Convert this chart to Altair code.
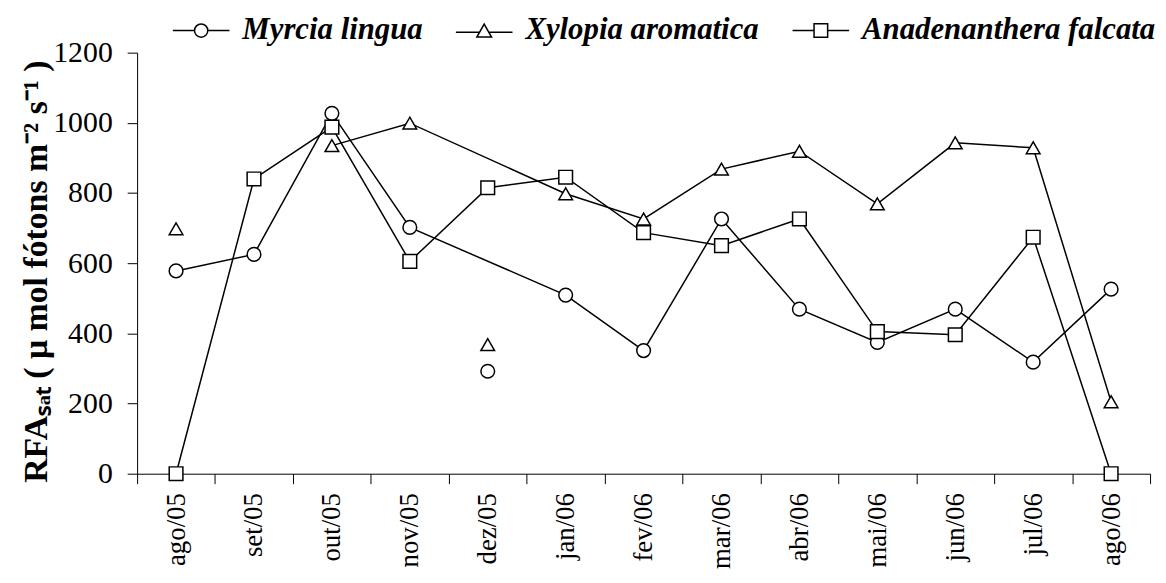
import altair as alt
import pandas as pd

months = ["ago/05", "set/05", "out/05", "nov/05", "dez/05", "jan/06", "fev/06",
          "mar/06", "abr/06", "mai/06", "jun/06", "jul/06", "ago/06"]
species = ["Myrcia lingua", "Xylopia aromatica", "Anadenanthera falcata"]

myrcia = [578, 625, 1027, 702, 292, 509, 351, 726, 469, 374, 469, 318, 526]
xylopia = [698, None, 935, 999, 368, 798, 726, 868, 919, 769, 943, 929, 205]
anadenanthera = [0, 840, 988, 605, 815, 845, 687, 650, 726, 405, 396, 674, 0]

# months whose points are shown but not joined by the series line
unjoined_myrcia = ["dez/05"]
unjoined_xylopia = ["ago/05", "dez/05"]
unjoined_anadenanthera = []

y_ticks = [0, 200, 400, 600, 800, 1000, 1200]

rows = []
for sp, vals, unj in zip(species, [myrcia, xylopia, anadenanthera],
                         [unjoined_myrcia, unjoined_xylopia, unjoined_anadenanthera]):
    for i, (m, v) in enumerate(zip(months, vals)):
        if v is None:
            continue
        rows.append({"mes": m, "ordem": i, "especie": sp, "rfa": v, "ligado": m not in unj})
df = pd.DataFrame(rows)

FONT = "Liberation Serif"

x_enc = alt.X(
    "mes:N",
    scale=alt.Scale(type="band", domain=months, paddingInner=0, paddingOuter=0),
    bandPosition=0.5,
    axis=alt.Axis(
        title=None, tickBand="extent", labelAngle=270, labelAlign="right",
        labelBaseline="middle", labelFont=FONT, labelFontSize=27, labelColor="black",
        labelPadding=9, tickSize=10, tickColor="black", domainColor="black",
        labelOverlap=False,
    ),
)
y_enc = alt.Y(
    "rfa:Q",
    scale=alt.Scale(domain=[0, 1200], nice=False, zero=True),
    axis=alt.Axis(
        values=y_ticks, format="d", title="RFAₛₐₜ ( μ mol fótons m⁻² s⁻¹ )",
        titleFont=FONT, titleFontSize=34, titleFontWeight="bold", titleColor="black",
        titleAngle=270, titleAlign="center", titleBaseline="alphabetic",
        titleX=-91, titleY=220,
        labelFont=FONT, labelFontSize=30, labelColor="black", labelPadding=15,
        tickSize=10, tickColor="black", domainColor="black", grid=False,
    ),
)

base = alt.Chart(df)

lines = base.transform_filter("datum.ligado").mark_line(
    color="black", strokeWidth=1.5
).encode(x=x_enc, y=y_enc, detail="especie:N", order=alt.Order("ordem:Q"))

points = base.mark_point(
    filled=True, fill="white", stroke="black", strokeWidth=1.5, size=190, opacity=1
).encode(
    x=x_enc, y=y_enc,
    shape=alt.Shape("especie:N",
                    scale=alt.Scale(domain=species, range=["circle", "triangle-up", "square"]),
                    legend=None),
)

legend_paths = [
    "M -1 0 L -0.235 0 M 0.235 0 L 1 0 M 0.235 0 A 0.235 0.235 0 1 1 -0.235 0 A 0.235 0.235 0 1 1 0.235 0 Z",
    "M -1 0.06 L -0.16 0.06 M 0.16 0.06 L 1 0.06 M 0 -0.23 L 0.26 0.23 L -0.26 0.23 Z",
    "M -1 0 L -0.24 0 M 0.24 0 L 1 0 M -0.24 -0.24 L 0.24 -0.24 L 0.24 0.24 L -0.24 0.24 Z",
]

legend_layer = base.mark_point(opacity=0).encode(
    x=x_enc, y=y_enc,
    shape=alt.Shape(
        "especie:N",
        scale=alt.Scale(domain=species, range=legend_paths),
        legend=alt.Legend(
            title=None, orient="none", legendX=35, legendY=-52, direction="horizontal",
            symbolSize=3249, symbolStrokeWidth=1.5, symbolStrokeColor="black",
            symbolFillColor="white", symbolOpacity=1,
            labelFont=FONT, labelFontSize=31, labelFontStyle="italic",
            labelFontWeight="bold", labelColor="black", labelOffset=12,
            columnPadding=30, labelLimit=0,
        ),
    ),
)

chart = alt.layer(lines, points, legend_layer).resolve_scale(
    shape="independent"
).properties(
    width=1020, height=424,
    autosize=alt.AutoSizeParams(type="none"),
    padding={"left": 130, "top": 43, "right": 8, "bottom": 96},
    background="white",
).configure_view(stroke=None)

chart.save("out.html", embed_options={"renderer": "svg", "actions": False})
